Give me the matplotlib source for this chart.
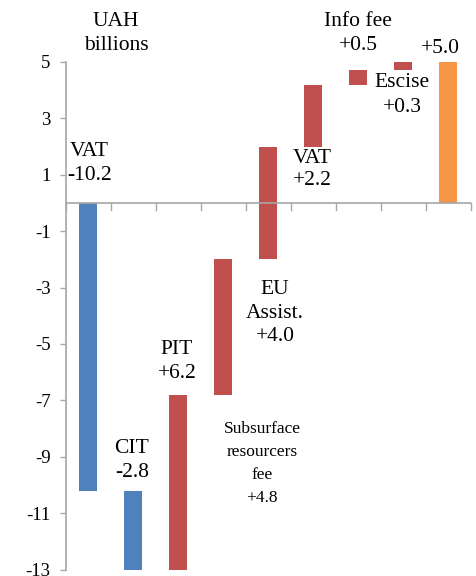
import matplotlib
matplotlib.use("Agg")
import matplotlib.pyplot as plt
import numpy as np

# Revenue change components, UAH billions
categories = ["VAT", "CIT", "PIT", "Subsurface resourcers fee", "EU Assist.",
              "VAT", "Info fee", "Escise", "Total"]
changes = [-10.2, -2.8, 6.2, 4.8, 4.0, 2.2, 0.5, 0.3]
total = 5.0
yticks = [5, 3, 1, -1, -3, -5, -7, -9, -11, -13]

BLUE = "#4F81BD"
RED = "#C0504D"
ORANGE = "#F79646"
AXIS = "#A6A6A6"

plt.rcParams["font.family"] = ["Liberation Serif", "DejaVu Serif"]

fig = plt.figure(figsize=(4.77, 5.76), dpi=100)
ax = fig.add_axes([65.7 / 477, 1 - 569.5 / 576, 405 / 477, (569.5 - 62) / 576])

# Waterfall: each step starts where the previous one ended
ends = np.cumsum(changes)
starts = np.concatenate([[0.0], ends[:-1]])
x = np.arange(len(changes))
colors = [BLUE if c < 0 else RED for c in changes]
ax.bar(x, changes, bottom=starts, width=0.4, color=colors, zorder=2)
ax.bar(len(changes), total, bottom=0, width=0.4, color=ORANGE, zorder=2)

ax.set_xlim(-0.5, len(categories) - 0.5)
ax.set_ylim(-13, 5)
ax.set_yticks(yticks)
ax.set_yticklabels([str(t) for t in yticks], fontsize=13.5)
ax.tick_params(axis="y", length=4, width=1, color=AXIS, pad=7)

# Horizontal axis drawn at zero with ticks between categories
for s in ["top", "right", "bottom"]:
    ax.spines[s].set_visible(False)
ax.spines["left"].set_color(AXIS)
ax.spines["left"].set_linewidth(1.2)
ax.axhline(0, color=AXIS, lw=1.2, zorder=3)
ax.set_xticks([])
for b in np.arange(-0.5, len(categories), 1.0):
    ax.plot([b, b], [0, -0.25], color=AXIS, lw=1, zorder=3, clip_on=False)


def px(xp, yp):
    return (xp - 65.7) / 45 - 0.5, (203.3 - yp) / 28.33


fs = 15.5
labels = [
    ("UAH\nbillions", 116, 33, "center", fs, 1.3),
    ("VAT\n-10.2", 67, 164, "left", fs, 1.35),
    ("CIT\n-2.8", 132, 462, "center", fs, 1.35),
    ("PIT\n+6.2", 177, 363, "center", fs, 1.35),
    ("Subsurface\nresourcers\nfee\n+4.8", 262, 465, "center", 12.5, 1.6),
    ("EU\nAssist.\n+4.0", 275, 314, "center", fs, 1.3),
    ("VAT\n+2.2", 293, 170, "left", fs, 1.2),
    ("Info fee\n+0.5", 358, 33, "center", fs, 1.4),
    ("Escise\n+0.3", 402, 95, "center", fs, 1.4),
    ("+5.0", 440, 48, "center", fs, 1.2),
]
for text, xp, yp, ha, size, ls in labels:
    xd, yd = px(xp, yp)
    ax.text(xd, yd, text, ha=ha, va="center", fontsize=size,
            linespacing=ls, multialignment="center", zorder=4)

fig.savefig("out.png", dpi=100)
